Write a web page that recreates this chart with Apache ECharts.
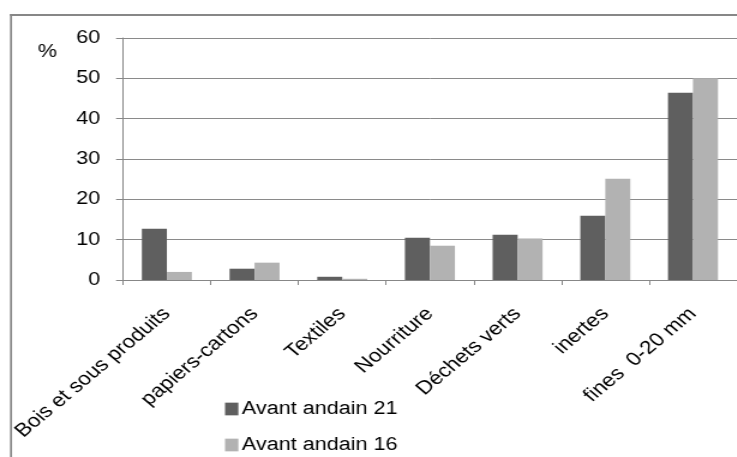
<!DOCTYPE html>
<html>
<head>
<meta charset="utf-8">
<script src="https://cdn.jsdelivr.net/npm/echarts@6/dist/echarts.min.js"></script>
<style>
  html, body { margin: 0; padding: 0; background: #fff; overflow: hidden; }
  #main { width: 614.17px; height: 457px; transform: scaleX(1.2); transform-origin: 0 0; }
</style>
</head>
<body>
<div id="main"></div>
<script>
const categories = ['Bois et sous produits', 'papiers-cartons', 'Textiles', 'Nourriture', 'Déchets verts', 'inertes', 'fines  0-20 mm'];
const seriesNames = ['Avant andain 21', 'Avant andain 16'];
const avant21 = [12.7, 2.8, 0.8, 10.5, 11.2, 15.9, 46.4];
const avant16 = [2.0, 4.3, 0.3, 8.5, 10.3, 25.1, 50.0];
const yTicks = { min: 0, max: 60, interval: 10 };
const unitLabel = '%';

const FONT = 'Liberation Sans';
const FS = 18;
const legendBase = {
  orient: 'vertical',
  itemWidth: 11.1,
  itemHeight: 12.7,
  icon: 'rect',
  textStyle: { fontFamily: FONT, fontSize: FS, color: '#000', padding: [0, 0, 0, -2] }
};
const chart = echarts.init(document.getElementById('main'), null, { renderer: 'canvas' });
chart.setOption({
  animation: false,
  backgroundColor: '#ffffff',
  textStyle: { fontFamily: FONT },
  graphic: [
    { type: 'line', shape: { x1: 9.17, y1: 14, x2: 9.17, y2: 470 }, style: { stroke: '#878787', lineWidth: 1.7 } },
    { type: 'line', shape: { x1: 8.3, y1: 15, x2: 630, y2: 15 }, style: { stroke: '#878787', lineWidth: 2 } },
    { type: 'text', left: 31.5, top: 43, style: { text: unitLabel, fontFamily: FONT, fontSize: FS, fill: '#000' } }
  ],
  grid: { left: 102.5, top: 38, width: 522.5, bottom: 177, containLabel: false },
  legend: [
    Object.assign({}, legendBase, { left: 182.5, top: 395, data: [seriesNames[0]] }),
    Object.assign({}, legendBase, { left: 182.5, top: 431, data: [seriesNames[1]] })
  ],
  xAxis: {
    type: 'category',
    data: categories,
    axisLine: { lineStyle: { color: '#878787', width: 1 } },
    axisTick: { show: true, length: 5, lineStyle: { color: '#878787' } },
    axisLabel: { rotate: 45, margin: 31, fontFamily: FONT, fontSize: 18.8, color: '#000', interval: 0 }
  },
  yAxis: {
    type: 'value',
    min: yTicks.min,
    max: yTicks.max,
    interval: yTicks.interval,
    axisLine: { show: true, lineStyle: { color: '#878787', width: 1 } },
    axisTick: { show: true, length: 5.8, lineStyle: { color: '#878787' } },
    axisLabel: { margin: 19, fontFamily: FONT, fontSize: FS, color: '#000' },
    splitLine: { show: true, lineStyle: { color: '#8a8a8a', width: 1 } }
  },
  series: [
    { name: seriesNames[0], type: 'bar', data: avant21, barGap: '0%', barCategoryGap: '43%', itemStyle: { color: '#5f5f5f' } },
    { name: seriesNames[1], type: 'bar', data: avant16, barGap: '0%', barCategoryGap: '43%', itemStyle: { color: '#b2b2b2' } }
  ]
});
</script>
</body>
</html>
